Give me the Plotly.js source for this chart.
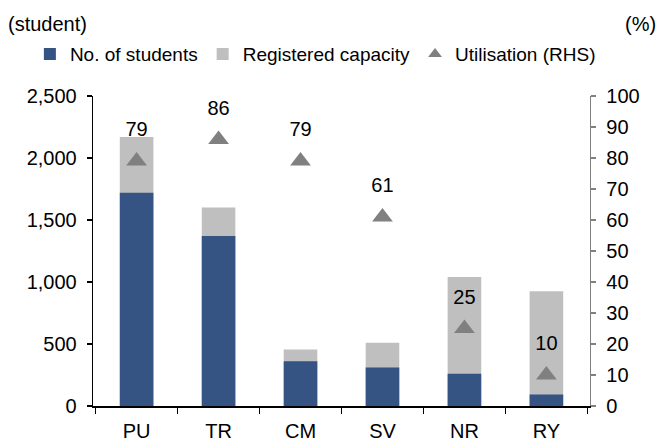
<!DOCTYPE html>
<html><head><meta charset="utf-8">
<script src="https://cdn.plot.ly/plotly-3.0.1.min.js"></script>
<style>body{margin:0;padding:0;background:#fff}#chart{width:660px;height:448px}</style>
</head><body><div id="chart"></div>
<script>
const categories = ["PU","TR","CM","SV","NR","RY"];
const students = [1720, 1370, 360, 310, 260, 92];
const capacity = [2170, 1600, 455, 510, 1040, 925];
const utilisation = [79, 86, 79, 61, 25, 10];
const utilLabels = ["79","86","79","61","25","10"];

const FAM = "Liberation Sans, Arial, sans-serif";
const font = {family: FAM, size: 20, color: "#000"};

const trStudents = {type:"bar", name:"No. of students", x:categories, y:students, marker:{color:"#355383"}, width:0.41, legendrank:1};
const trCapacity = {type:"bar", name:"Registered capacity", x:categories, y:capacity, marker:{color:"#bfbfbf"}, width:0.41, legendrank:2};
const trUtil = {type:"scatter", mode:"markers", name:"Utilisation (RHS)", x:categories, y:utilisation, yaxis:"y2",
   marker:{symbol:"triangle-up", size:18, color:"#808080"}, legendrank:3};
const trLabels = {type:"scatter", mode:"markers+text", x:categories, y:utilisation, yaxis:"y2", text:utilLabels,
   marker:{size:30, opacity:0, color:"#fff"},
   textposition:"top center", textfont:{family:FAM, size:20, color:"#000"}, showlegend:false, hoverinfo:"skip",
   cliponaxis:false};

const data = [trCapacity, trStudents, trUtil, trLabels];

const layout = {
  width:660, height:448,
  margin:{l:93, r:70, t:96, b:42},
  barmode:"overlay",
  font:font,
  paper_bgcolor:"#fff", plot_bgcolor:"#fff",
  showlegend:true,
  legend:{orientation:"h", x:-0.127, xanchor:"left", y:1.135, yanchor:"middle",
    font:{family:FAM, size:19, color:"#000"}, itemwidth:30, traceorder:"normal", itemsizing:"constant", tracegroupgap:0},
  xaxis:{type:"category", showgrid:false, showline:true, linecolor:"#000", linewidth:1.5,
    ticks:"outside", tickson:"boundaries", ticklen:6, tickcolor:"#000", tickwidth:1.5, ticklabelstandoff:6, tickfont:{size:20}},
  yaxis:{range:[0,2500], dtick:500, tickformat:",d", showgrid:false, showline:true, linecolor:"#000", linewidth:1.3,
    ticks:"outside", ticklen:5, tickcolor:"#000", tickwidth:1.3, ticklabelstandoff:6, tickfont:{size:20}, zeroline:false},
  yaxis2:{range:[0,100], dtick:10, overlaying:"y", side:"right", showgrid:false, showline:true, linecolor:"#808080",
    linewidth:1.3, ticks:"outside", ticklen:5, tickcolor:"#808080", tickwidth:1.3, ticklabelstandoff:6, tickfont:{size:20}, zeroline:false},
  annotations:[
    {text:"(student)", xref:"paper", yref:"paper", x:-0.175, y:1.232, xanchor:"left", yanchor:"middle", showarrow:false, font:{size:20}},
    {text:"(%)", xref:"paper", yref:"paper", x:1.137, y:1.232, xanchor:"right", yanchor:"middle", showarrow:false, font:{size:20}}
  ]
};
Plotly.newPlot("chart", data, layout, {displayModeBar:false, staticPlot:true});
</script></body></html>
